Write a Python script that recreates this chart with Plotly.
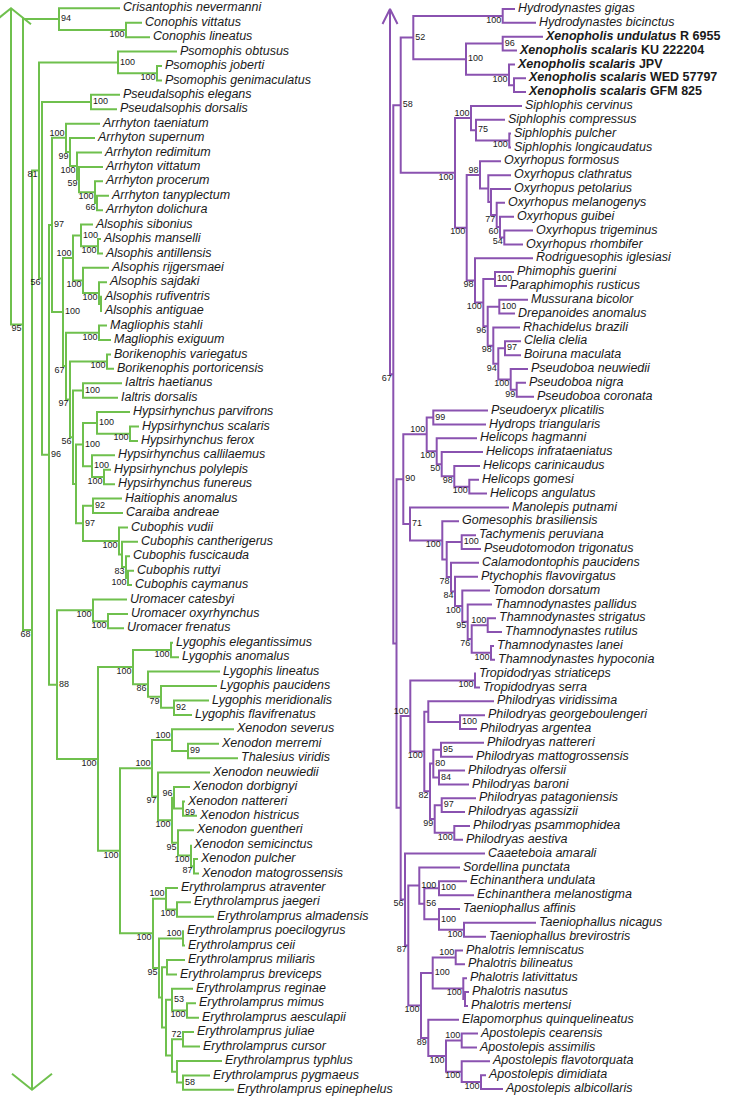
import plotly.graph_objects as go

# ---------------- data ----------------
LEFT_TAXA = [
    "Crisantophis nevermanni", "Conophis vittatus", "Conophis lineatus",
    "Psomophis obtusus", "Psomophis joberti", "Psomophis genimaculatus",
    "Pseudalsophis elegans", "Pseudalsophis dorsalis",
    "Arrhyton taeniatum", "Arrhyton supernum", "Arrhyton redimitum", "Arrhyton vittatum",
    "Arrhyton procerum", "Arrhyton tanyplectum", "Arrhyton dolichura",
    "Alsophis sibonius", "Alsophis manselli", "Alsophis antillensis", "Alsophis rijgersmaei",
    "Alsophis sajdaki", "Alsophis rufiventris", "Alsophis antiguae",
    "Magliophis stahli", "Magliophis exiguum",
    "Borikenophis variegatus", "Borikenophis portoricensis",
    "Ialtris haetianus", "Ialtris dorsalis",
    "Hypsirhynchus parvifrons", "Hypsirhynchus scalaris", "Hypsirhynchus ferox",
    "Hypsirhynchus callilaemus", "Hypsirhynchus polylepis", "Hypsirhynchus funereus",
    "Haitiophis anomalus", "Caraiba andreae",
    "Cubophis vudii", "Cubophis cantherigerus", "Cubophis fuscicauda", "Cubophis ruttyi",
    "Cubophis caymanus",
    "Uromacer catesbyi", "Uromacer oxyrhynchus", "Uromacer frenatus",
    "Lygophis elegantissimus", "Lygophis anomalus", "Lygophis lineatus", "Lygophis paucidens",
    "Lygophis meridionalis", "Lygophis flavifrenatus",
    "Xenodon severus", "Xenodon merremi", "Thalesius viridis", "Xenodon neuwiedii",
    "Xenodon dorbignyi", "Xenodon nattereri", "Xenodon histricus", "Xenodon guentheri",
    "Xenodon semicinctus", "Xenodon pulcher", "Xenodon matogrossensis",
    "Erythrolamprus atraventer", "Erythrolamprus jaegeri", "Erythrolamprus almadensis",
    "Erythrolamprus poecilogyrus", "Erythrolamprus ceii", "Erythrolamprus miliaris",
    "Erythrolamprus breviceps", "Erythrolamprus reginae", "Erythrolamprus mimus",
    "Erythrolamprus aesculapii", "Erythrolamprus juliae", "Erythrolamprus cursor",
    "Erythrolamprus typhlus", "Erythrolamprus pygmaeus", "Erythrolamprus epinephelus",
]
LEFT_TIP_DEPTH = [
    120, 142, 150, 177, 162, 162, 120, 117,
    100, 95, 102, 103, 103, 109, 103,
    93, 101, 103, 109, 107, 102, 102,
    107, 111, 111, 114, 122, 118,
    130, 139, 138, 115, 111, 115, 122, 123,
    128, 138, 130, 134, 132, 127, 128, 124,
    173, 179, 220, 217, 209, 192,
    234, 219, 238, 210, 190, 185, 197, 194, 191, 198, 199,
    178, 191, 214, 184, 185, 185, 177, 193, 196, 199, 194, 200, 222, 210, 234,
]
# clade id, children (row numbers / clade ids, ^ v = arrows), support+placement, depth
LEFT_CLADES = [
    ("R1", "^ R2", "", 11), ("R2", "N94 R3", "95l", 23),
    ("N94", "1 Con", "94r", 59), ("Con", "2 3", "100l", 126),
    ("R3", "R4 v", "68l", 32), ("R4", "Pso R5", "81l", 39),
    ("Pso", "4 PsoJG", "100r", 118), ("PsoJG", "5 6", "100l", 157),
    ("R5", "Pse R6", "56l", 42), ("Pse", "7 8", "100r", 91),
    ("R6", "R7 R13", "96r", 49), ("R7", "Na R8", "97r", 52),
    ("Na", "9 Nb", "100a", 66), ("Nb", "10 Nc", "99l", 70), ("Nc", "11 Nd", "100l", 77),
    ("Nd", "12 Ne", "59l", 79), ("Ne", "13 Nf", "100l", 95), ("Nf", "14 15", "66l", 97),
    ("R8", "Als R9", "100r", 63), ("Als", "AlsS AlsR", "100a", 73),
    ("AlsS", "16 AlsMA", "100r", 81), ("AlsMA", "17 18", "100l", 98),
    ("AlsR", "19 AlsSRA", "100l", 83), ("AlsSRA", "20 AlsRA", "100l", 99),
    ("AlsRA", "21 22", "", 101),
    ("R9", "Mag R10", "67l", 66), ("Mag", "23 24", "100l", 99),
    ("R10", "Bor R11", "97l", 70), ("Bor", "25 26", "100l", 107),
    ("R11", "Ial R12", "56l", 73), ("Ial", "27 28", "100r", 83),
    ("R12", "Hyp HC", "", 76), ("Hyp", "HypP HypC", "100r", 83),
    ("HypP", "29 HypSF", "100r", 97), ("HypSF", "30 31", "100l", 130),
    ("HypC", "32 HypPF", "100r", 92), ("HypPF", "33 34", "100l", 104),
    ("HC", "HaiCar Cub", "97r", 83), ("HaiCar", "35 36", "92r", 93),
    ("Cub", "37 CubC", "100l", 119), ("CubC", "38 CubF", "", 122),
    ("CubF", "39 CubRC", "83l", 126), ("CubRC", "40 41", "100l", 128),
    ("R13", "Uro LXE", "88r", 57), ("Uro", "42 UroOF", "100l", 93),
    ("UroOF", "43 44", "100l", 108), ("LXE", "Lyg XE", "100l", 98),
    ("Lyg", "LygEA LygL", "100l", 133), ("LygEA", "45 46", "100l", 171),
    ("LygL", "47 LygP", "86l", 148), ("LygP", "48 LygMF", "79l", 161),
    ("LygMF", "49 50", "92r", 174),
    ("XE", "Xen Ery", "100l", 120), ("Xen", "XenS XenN", "100a", 152),
    ("XenS", "51 XenMT", "100a", 172), ("XenMT", "52 53", "99r", 188),
    ("XenN", "54 XenDG", "97l", 158), ("XenDG", "XenD XenG", "100l", 172),
    ("XenD", "55 XenNH", "96a", 174), ("XenNH", "56 57", "99b", 183),
    ("XenG", "58 XenSe", "95l", 178), ("XenSe", "59 XenPM", "100l", 191),
    ("XenPM", "60 61", "87l", 194),
    ("Ery", "EryA EryB", "100l", 153), ("EryA", "62 EryJA", "100a", 166),
    ("EryJA", "63 64", "100l", 177), ("EryB", "EryPC EryC", "95l", 159),
    ("EryPC", "65 66", "100a", 183), ("EryC", "EryMB EryD", "", 162),
    ("EryMB", "67 68", "", 167), ("EryD", "EryR EryE", "", 166),
    ("EryR", "69 EryMA", "53r", 172), ("EryMA", "70 71", "100l", 187),
    ("EryE", "EryJC EryT", "", 172), ("EryJC", "72 73", "72a", 183),
    ("EryT", "74 EryPE", "", 177), ("EryPE", "75 76", "58r", 183),
]

RIGHT_TAXA = [
    "Hydrodynastes gigas", "Hydrodynastes bicinctus",
    "Xenopholis undulatus R 6955", "Xenopholis scalaris KU 222204", "Xenopholis scalaris JPV",
    "Xenopholis scalaris WED 57797", "Xenopholis scalaris GFM 825",
    "Siphlophis cervinus", "Siphlophis compressus", "Siphlophis pulcher", "Siphlophis longicaudatus",
    "Oxyrhopus formosus", "Oxyrhopus clathratus", "Oxyrhopus petolarius", "Oxyrhopus melanogenys",
    "Oxyrhopus guibei", "Oxyrhopus trigeminus", "Oxyrhopus rhombifer",
    "Rodriguesophis iglesiasi", "Phimophis guerini", "Paraphimophis rusticus",
    "Mussurana bicolor", "Drepanoides anomalus", "Rhachidelus brazili", "Clelia clelia",
    "Boiruna maculata", "Pseudoboa neuwiedii", "Pseudoboa nigra", "Pseudoboa coronata",
    "Pseudoeryx plicatilis", "Hydrops triangularis", "Helicops hagmanni",
    "Helicops infrataeniatus", "Helicops carinicaudus", "Helicops gomesi", "Helicops angulatus",
    "Manolepis putnami", "Gomesophis brasiliensis", "Tachymenis peruviana",
    "Pseudotomodon trigonatus", "Calamodontophis paucidens", "Ptychophis flavovirgatus",
    "Tomodon dorsatum", "Thamnodynastes pallidus", "Thamnodynastes strigatus",
    "Thamnodynastes rutilus", "Thamnodynastes lanei", "Thamnodynastes hypoconia",
    "Tropidodryas striaticeps", "Tropidodryas serra", "Philodryas viridissima",
    "Philodryas georgeboulengeri", "Philodryas argentea", "Philodryas nattereri",
    "Philodryas mattogrossensis", "Philodryas olfersii", "Philodryas baroni",
    "Philodryas patagoniensis", "Philodryas agassizii", "Philodryas psammophidea",
    "Philodryas aestiva", "Caaeteboia amarali", "Sordellina punctata",
    "Echinanthera undulata", "Echinanthera melanostigma", "Taeniophallus affinis",
    "Taeniophallus nicagus", "Taeniophallus brevirostris", "Phalotris lemniscatus",
    "Phalotris bilineatus", "Phalotris lativittatus", "Phalotris nasutus", "Phalotris mertensi",
    "Elapomorphus quinquelineatus", "Apostolepis cearensis", "Apostolepis assimilis",
    "Apostolepis flavotorquata", "Apostolepis dimidiata", "Apostolepis albicollaris",
]
RIGHT_BOLD_ROWS = [3, 4, 5, 6, 7]
RIGHT_TIP_DEPTH = [
    515, 536, 543, 517, 515, 526, 526,
    522, 505, 511, 511,
    501, 511, 511, 505, 514, 533, 523,
    533, 514, 507, 528, 515, 520, 521, 521, 528, 526, 534,
    488, 486, 477, 483, 480, 479, 487,
    509, 459, 476, 481, 479, 478, 490, 492, 496, 502, 494, 495,
    476, 480, 494, 485, 477, 484, 473, 465, 469, 476, 465, 470, 463,
    485, 460, 467, 474, 460, 536, 486,
    463, 465, 467, 469, 468, 459, 478, 477, 490, 486, 503,
]
RIGHT_CLADES = [
    ("RT", "^ R67", "", 390), ("R67", "R58 RB", "67l", 393.3),
    ("R58", "HX PS1", "58r", 400.7), ("HX", "Hyd Xno", "52r", 413.3),
    ("Hyd", "1 2", "100l", 502.7), ("Xno", "XnoU XnoS", "100r", 466),
    ("XnoU", "3 4", "96r", 502.7), ("XnoS", "5 XnoWG", "100l", 509),
    ("XnoWG", "6 7", "", 514),
    ("PS1", "Sip PS2", "100l", 455), ("Sip", "8 SipC", "100a", 471),
    ("SipC", "9 SipPL", "75r", 476), ("SipPL", "10 11", "100l", 509.3),
    ("PS2", "Oxy PS3", "100l", 466.7), ("Oxy", "12 OxyC", "98a", 480),
    ("OxyC", "13 OxyP", "", 488.3), ("OxyP", "14 OxyM", "", 491),
    ("OxyM", "15 OxyG", "77l", 496.7), ("OxyG", "16 OxyTR", "60l", 500),
    ("OxyTR", "17 18", "54l", 504.3),
    ("PS3", "19 PS4", "98l", 475), ("PS4", "PhP PS5", "100l", 483.3),
    ("PhP", "20 21", "100r", 495), ("PS5", "MuD PS6", "96l", 487.7),
    ("MuD", "22 23", "100r", 499.3), ("PS6", "24 PS7", "98l", 493.3),
    ("PS7", "ClB Pbo", "94l", 498.3), ("ClB", "25 26", "97r", 505),
    ("Pbo", "27 PboNC", "100l", 510.7), ("PboNC", "28 29", "99l", 516.7),
    ("RB", "R90 RD", "", 396.5), ("R90", "HH R71", "90r", 403.3),
    ("HH", "Hdr Hel", "100a", 426.7), ("Hdr", "30 31", "99r", 433.3),
    ("Hel", "32 HelI", "100l", 436.7), ("HelI", "33 HelC", "50l", 441.7),
    ("HelC", "34 HelGA", "98l", 454.3), ("HelGA", "35 36", "100l", 469.3),
    ("R71", "37 G", "71r", 410), ("G", "38 T0", "100l", 442.3),
    ("T0", "TP T1", "", 446.7), ("TP", "39 40", "100r", 461.7),
    ("T1", "41 T2", "78l", 451), ("T2", "42 T3", "84l", 455),
    ("T3", "43 T4", "100l", 462.3), ("T4", "44 T5", "95l", 467.7),
    ("T5", "T6 T7", "76l", 471.7), ("T6", "45 46", "100a", 487.7),
    ("T7", "47 48", "100l", 491),
    ("RD", "PK CE", "", 400.7), ("PK", "Tro PJ", "100a", 410.3),
    ("Tro", "49 50", "100l", 475), ("PJ", "PB PI", "100l", 424.3),
    ("PB", "51 PA", "", 428.3), ("PA", "52 53", "100r", 460),
    ("PI", "PE PH", "82l", 430), ("PE", "PC PD", "80r", 433.3),
    ("PC", "54 55", "95r", 441), ("PD", "56 57", "84r", 439),
    ("PH", "PF PG", "99l", 434.7), ("PF", "58 59", "97r", 441.7),
    ("PG", "60 61", "100l", 454.3),
    ("CE", "62 EE", "56l", 405), ("EE", "Ech Ela", "87l", 408.3),
    ("Ech", "63 EchET", "100r", 419.3), ("EchET", "EchE EchT", "56r", 424.3),
    ("EchE", "64 65", "100r", 439), ("EchT", "66 EchNB", "100r", 439),
    ("EchNB", "67 68", "100l", 464),
    ("Ela", "Pha Elp", "100l", 421), ("Pha", "PhaLB PhaLNM", "100r", 432.7),
    ("PhaLB", "69 70", "100a", 455.7), ("PhaLNM", "71 PhaNM", "100l", 463.3),
    ("PhaNM", "72 73", "", 465), ("Elp", "74 Apo", "89l", 428.3),
    ("Apo", "ApoCA ApoF", "100l", 446), ("ApoCA", "75 76", "100a", 461.7),
    ("ApoF", "77 ApoDA", "100l", 461.7), ("ApoDA", "78 79", "100l", 481),
]

# ---------------- style ----------------
W, H = 735, 1099
FONT = "Arial, Liberation Sans, sans-serif"
TEXT_COLOR = "#1a1a1a"
PANELS = [
    dict(taxa=LEFT_TAXA, tips=LEFT_TIP_DEPTH, clades=LEFT_CLADES, bold=[],
         color="#6fc04d", row_px=14.42, top_px=8.3, arrow_hw=20, arrow_h=16, yaxis="y"),
    dict(taxa=RIGHT_TAXA, tips=RIGHT_TIP_DEPTH, clades=RIGHT_CLADES, bold=RIGHT_BOLD_ROWS,
         color="#8a52b0", row_px=13.846, top_px=9.0, arrow_hw=7.5, arrow_h=15, yaxis="y2"),
]
LABEL_POS = {"r": (2, "middle right"), "b": (2, "bottom right"),
             "a": (-1.5, "top left"), "l": (-1.5, "bottom left")}


def fmt_taxon(name, bold):
    words = name.split()
    ital = "<i>" + " ".join(words[:2]) + "</i>"
    rest = " ".join(words[2:])
    s = ital + (" " + rest if rest else "")
    return "<b>" + s + "</b>" if bold else s


fig = go.Figure()
layout_axes = {}
for p in PANELS:
    taxa, tips, clades = p["taxa"], p["tips"], p["clades"]
    info = {cid: (ch.split(), sup, d) for cid, ch, sup, d in clades}
    last = len(taxa) - 1

    def ypos(n):
        if n == "^":
            return 0
        if n == "v":
            return last
        if n in info:
            ch = info[n][0]
            return (ypos(ch[0]) + ypos(ch[-1])) / 2
        return int(n) - 1

    def depth(n, parent_d):
        if n in info:
            return info[n][2]
        if n in ("^", "v"):
            return parent_d
        return tips[int(n) - 1]

    xs, ys = [], []
    lx, ly, lt, lp = [], [], [], []
    ax_, ay_ = [], []
    hrow = p["arrow_h"] / p["row_px"]
    for cid, (ch, sup, d) in info.items():
        y_first, y_last = ypos(ch[0]), ypos(ch[-1])
        xs += [depth(ch[0], d), d, d, depth(ch[-1], d), None]
        ys += [y_first, y_first, y_last, y_last, None]
        for c in ch[1:-1]:
            xs += [d, depth(c, d), None]
            ys += [ypos(c), ypos(c), None]
        for c in ch:
            if c in ("^", "v"):
                yy = ypos(c)
                sgn = 1 if c == "^" else -1
                ax_ += [d - p["arrow_hw"], d, d + p["arrow_hw"], None]
                ay_ += [yy + sgn * hrow, yy, yy + sgn * hrow, None]
        if sup:
            val, pos = sup[:-1], sup[-1]
            dx, tp = LABEL_POS[pos]
            lx.append(d + dx); lp.append(tp)
            ly.append(ypos(cid)); lt.append(val)

    yref = p["yaxis"]
    fig.add_trace(go.Scatter(x=xs, y=ys, mode="lines", yaxis=yref, hoverinfo="skip",
                             line=dict(color=p["color"], width=2)))
    fig.add_trace(go.Scatter(x=ax_, y=ay_, mode="lines", yaxis=yref, hoverinfo="skip",
                             line=dict(color=p["color"], width=2)))
    fig.add_trace(go.Scatter(
        x=[t + 3 for t in tips], y=list(range(len(taxa))), mode="text", yaxis=yref,
        text=[fmt_taxon(n, (i + 1) in p["bold"]) for i, n in enumerate(taxa)],
        textposition="middle right", cliponaxis=False, hoverinfo="skip",
        textfont=dict(family=FONT, size=12.5, color=TEXT_COLOR)))
    fig.add_trace(go.Scatter(
        x=lx, y=ly, mode="text", yaxis=yref, text=lt, textposition=lp,
        cliponaxis=False, hoverinfo="skip",
        textfont=dict(family=FONT, size=9, color=TEXT_COLOR)))

    r_top = -p["top_px"] / p["row_px"]
    r_bot = r_top + H / p["row_px"]
    key = "yaxis" if yref == "y" else "yaxis2"
    ax = dict(range=[r_bot, r_top], visible=False, fixedrange=True)
    if key == "yaxis2":
        ax["overlaying"] = "y"
    layout_axes[key] = ax

fig.update_layout(
    width=W, height=H, margin=dict(l=0, r=0, t=0, b=0),
    paper_bgcolor="white", plot_bgcolor="white", showlegend=False,
    xaxis=dict(range=[0, W], visible=False, fixedrange=True),
    **layout_axes,
)
fig.write_html("out.html", config={"displayModeBar": False},
               post_script="document.body.style.margin='0px';document.body.style.overflow='hidden';")
